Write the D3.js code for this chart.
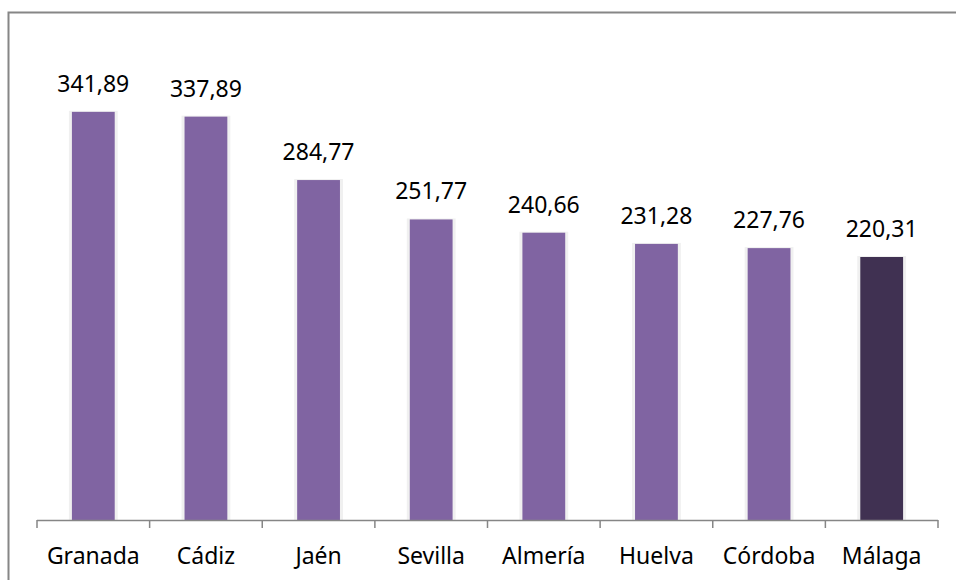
<!DOCTYPE html>
<html>
<head>
<meta charset="utf-8">
<script src="https://cdn.jsdelivr.net/npm/d3@7"></script>
<style>
  body { margin: 0; background: #fff; }
  svg text { font-family: "Noto Sans", "Open Sans", sans-serif; fill: #000; }
</style>
</head>
<body>
<svg width="956" height="580"></svg>
<script>
// Data
var provincias = ["Granada", "Cádiz", "Jaén", "Sevilla", "Almería", "Huelva", "Córdoba", "Málaga"];
var valores = [341.89, 337.89, 284.77, 251.77, 240.66, 231.28, 227.76, 220.31];
var destacada = "Málaga";

var svg = d3.select("svg"),
    width = +svg.attr("width"),
    height = +svg.attr("height");

// Chart frame (right and bottom edges fall outside the picture)
svg.append("rect")
    .attr("x", 8.5)
    .attr("y", 12.5)
    .attr("width", 1000)
    .attr("height", 1000)
    .attr("fill", "none")
    .attr("stroke", "#868686")
    .attr("stroke-width", 2);

var x = d3.scaleBand()
    .domain(provincias)
    .range([37, 938])
    .paddingInner(0.62)
    .paddingOuter(0.31);

var y = d3.scaleLinear()
    .domain([0, 400])
    .range([520, 42.5]);

var fmt = function (v) { return d3.format(".2f")(v).replace(".", ","); };

// Soft shadow behind each bar
svg.append("g")
    .selectAll("rect")
    .data(valores)
    .enter()
    .append("rect")
    .attr("x", function (d, i) { return x(provincias[i]) - 3; })
    .attr("y", function (d) { return y(d) - 1; })
    .attr("width", x.bandwidth() + 6)
    .attr("height", function (d) { return y(0) - y(d) + 1; })
    .attr("fill", "#f0f0f0");

// Bars
svg.append("g")
    .selectAll("rect")
    .data(valores)
    .enter()
    .append("rect")
    .attr("x", function (d, i) { return x(provincias[i]); })
    .attr("y", function (d) { return y(d); })
    .attr("width", x.bandwidth())
    .attr("height", function (d) { return y(0) - y(d); })
    .attr("fill", function (d, i) { return provincias[i] === destacada ? "#403152" : "#8064a2"; });

// Value labels
svg.append("g")
    .selectAll("text")
    .data(valores)
    .enter()
    .append("text")
    .attr("x", function (d, i) { return x(provincias[i]) + x.bandwidth() / 2; })
    .attr("y", function (d) { return y(d) - 20; })
    .attr("text-anchor", "middle")
    .attr("font-size", "23px")
    .text(function (d) { return fmt(d); });

// X axis with ticks between categories
var step = x.step();
var ejeX = svg.append("g")
    .attr("transform", "translate(0," + y(0) + ")");

ejeX.append("line")
    .attr("x1", 37).attr("x2", 938)
    .attr("y1", 0.5).attr("y2", 0.5)
    .attr("stroke", "#868686")
    .attr("stroke-width", 1.5);

ejeX.selectAll("line.tick")
    .data(d3.range(provincias.length + 1))
    .enter()
    .append("line")
    .attr("class", "tick")
    .attr("x1", function (i) { return 37 + i * step; })
    .attr("x2", function (i) { return 37 + i * step; })
    .attr("y1", 0)
    .attr("y2", 8)
    .attr("stroke", "#868686")
    .attr("stroke-width", 1.5);

ejeX.selectAll("text")
    .data(provincias)
    .enter()
    .append("text")
    .attr("x", function (d) { return x(d) + x.bandwidth() / 2; })
    .attr("y", 44)
    .attr("text-anchor", "middle")
    .attr("font-size", "23px")
    .text(function (d) { return d; });
</script>
</body>
</html>
